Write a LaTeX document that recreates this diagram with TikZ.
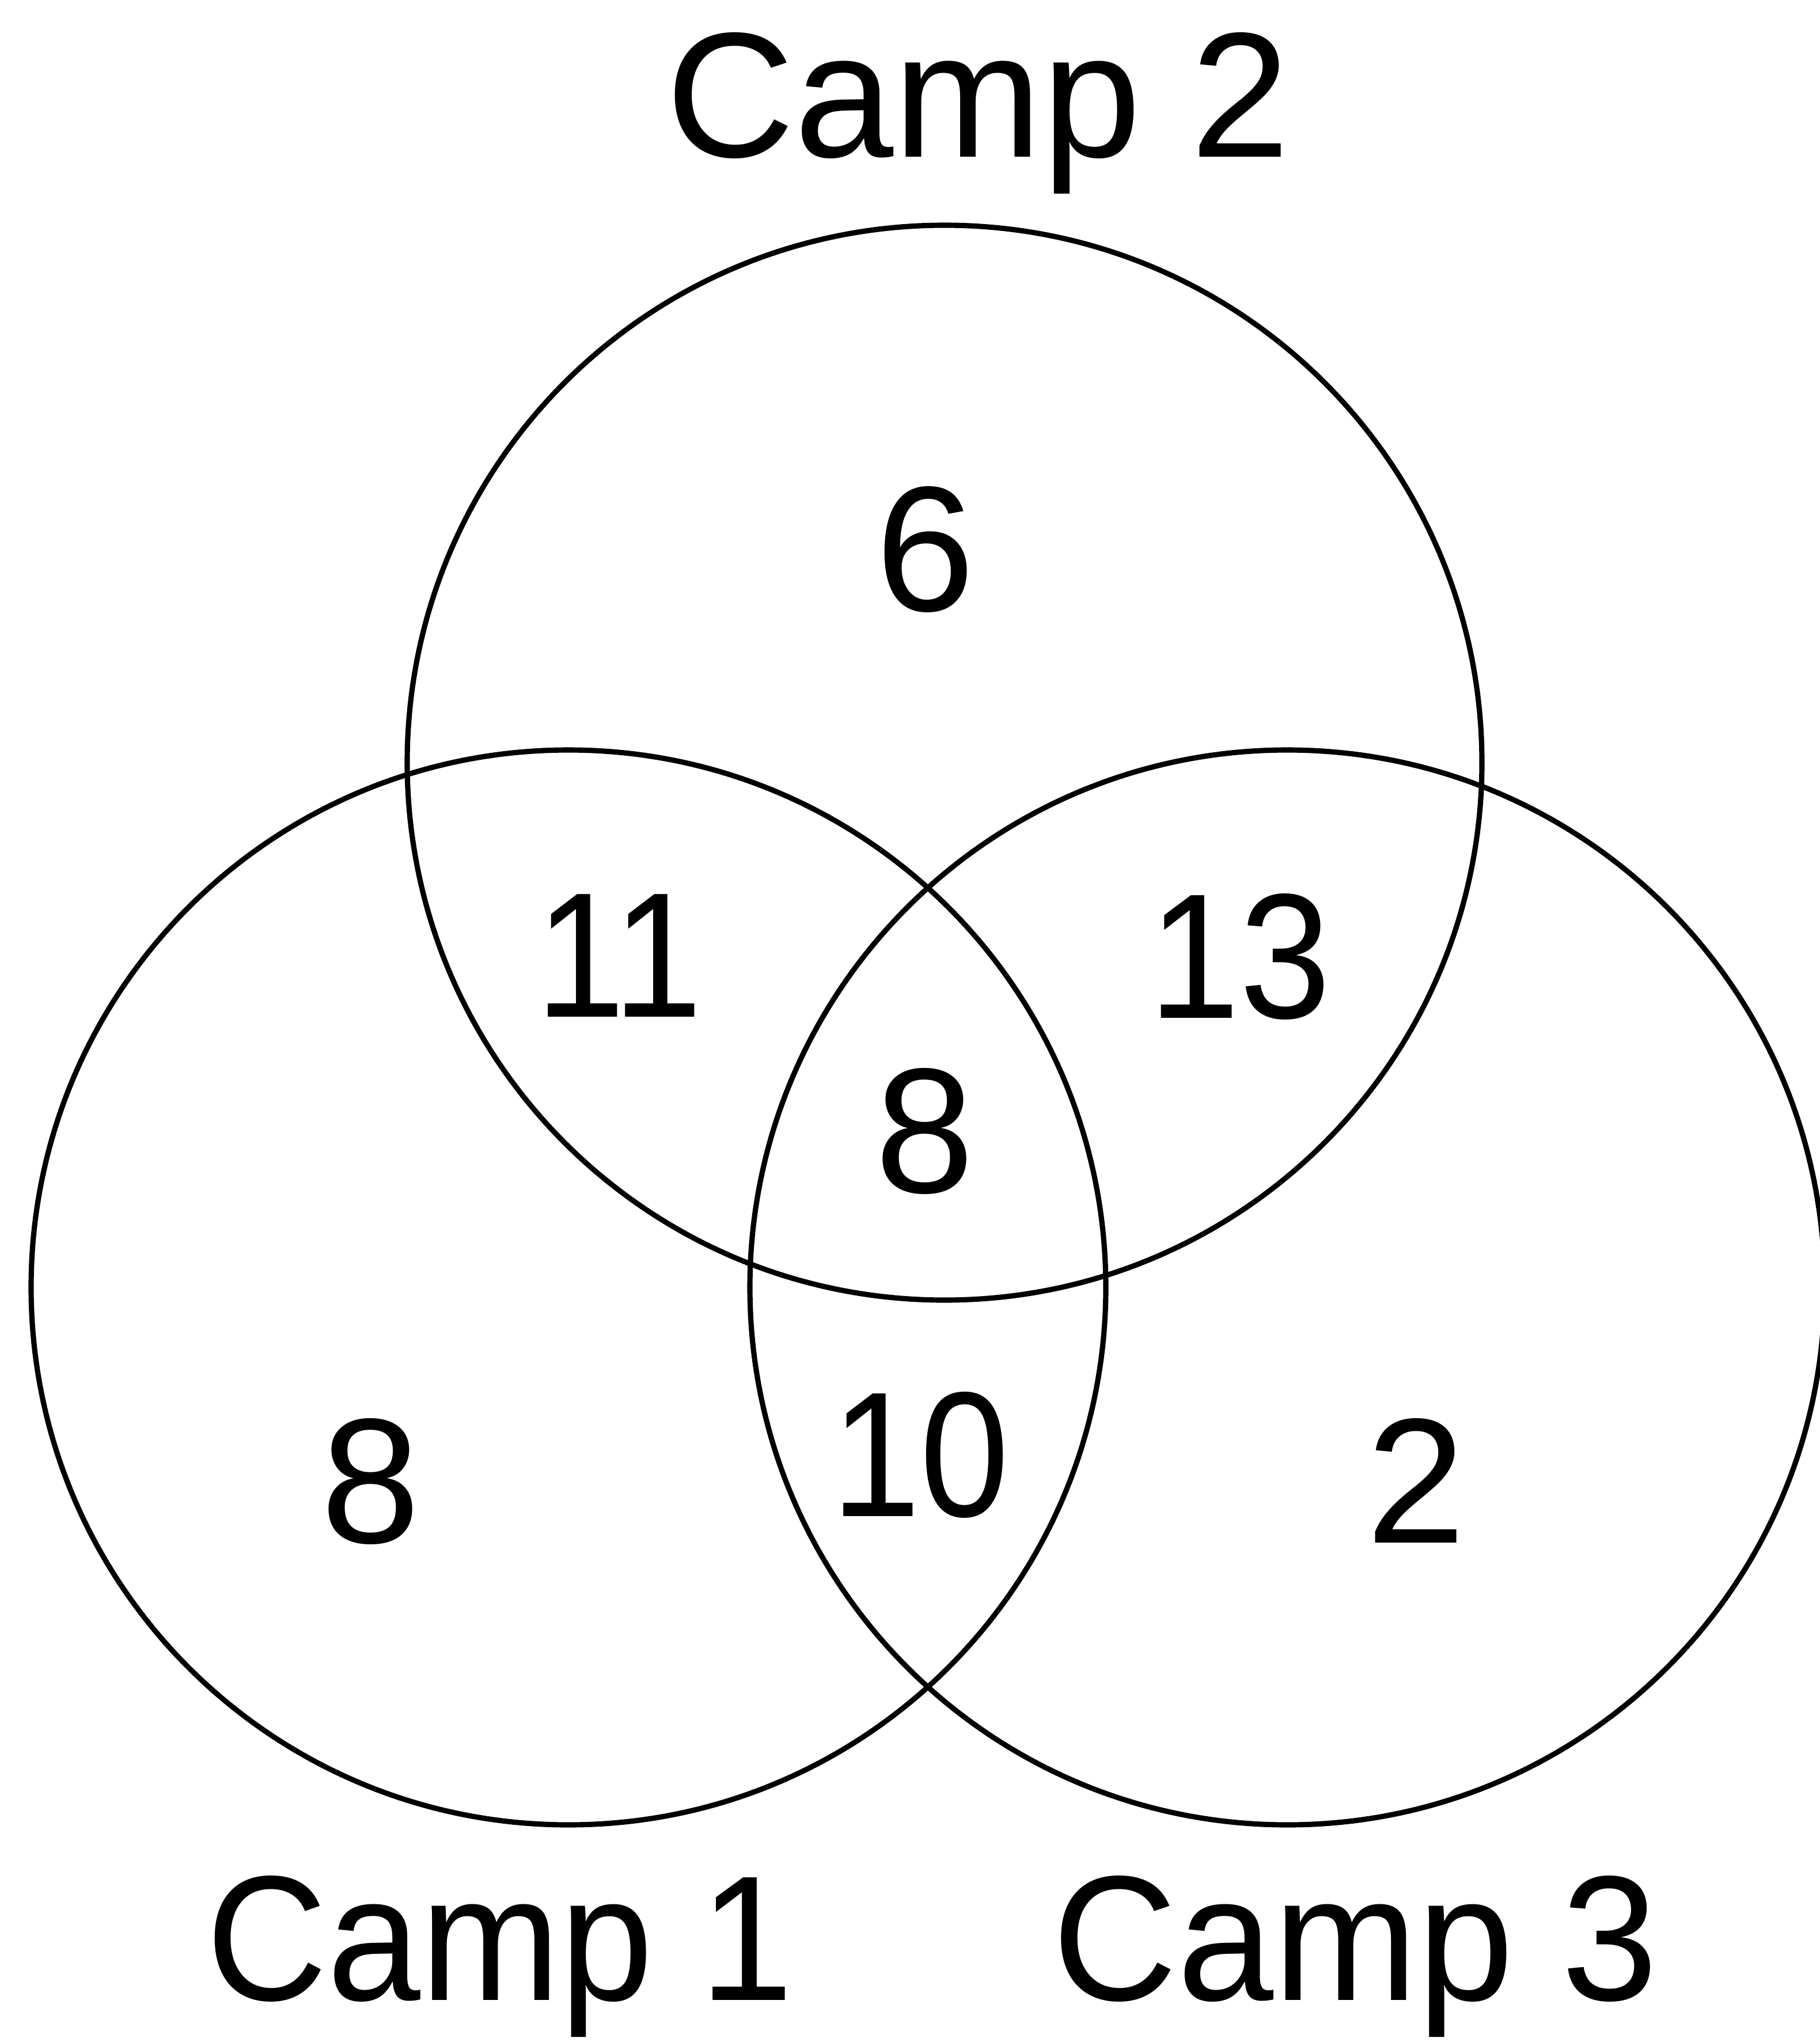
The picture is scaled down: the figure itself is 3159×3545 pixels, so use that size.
\documentclass[tikz,border=0pt]{standalone}
\usepackage{fontspec}
\setmainfont{Liberation Sans}

\begin{document}
\begin{tikzpicture}[x=0.01cm,y=-0.01cm,
  ring/.style={draw=black,line width=2.6pt},
  camp/.style={font=\fontsize{88}{100}\selectfont,anchor=base,inner sep=0pt},
  count/.style={font=\fontsize{88}{100}\selectfont,anchor=base,inner sep=0pt}]
\useasboundingbox (0,0) rectangle (3159,3545);
% circle centres
\coordinate (c1) at (987,2235);
\coordinate (c2) at (1640,1324);
\coordinate (c3) at (2235,2235);
\draw[ring] (c1) circle (933);
\draw[ring] (c2) circle (933);
\draw[ring] (c3) circle (933);
% set names
\node[camp] (camp2) at (1698,272) {Camp 2};
\node[camp,xscale=0.94] (camp1) at (868,3472) {Camp 1};
\node[camp,xscale=0.97] (camp3) at (2353,3472) {Camp 3};
% region counts
\node[count] (only2) at (1607,1060) {6};
\node[count,xscale=0.9] (n12) at (1075,1765) {11};
\node[count,xscale=0.92] (n23) at (2153,1767) {13};
\node[count] (n123) at (1606,2070) {8};
\node[count] (only1) at (644,2678) {8};
\node[count,xscale=0.9] (n13) at (1598,2632) {10};
\node[count] (only3) at (2459,2678) {2};
\end{tikzpicture}
\end{document}
